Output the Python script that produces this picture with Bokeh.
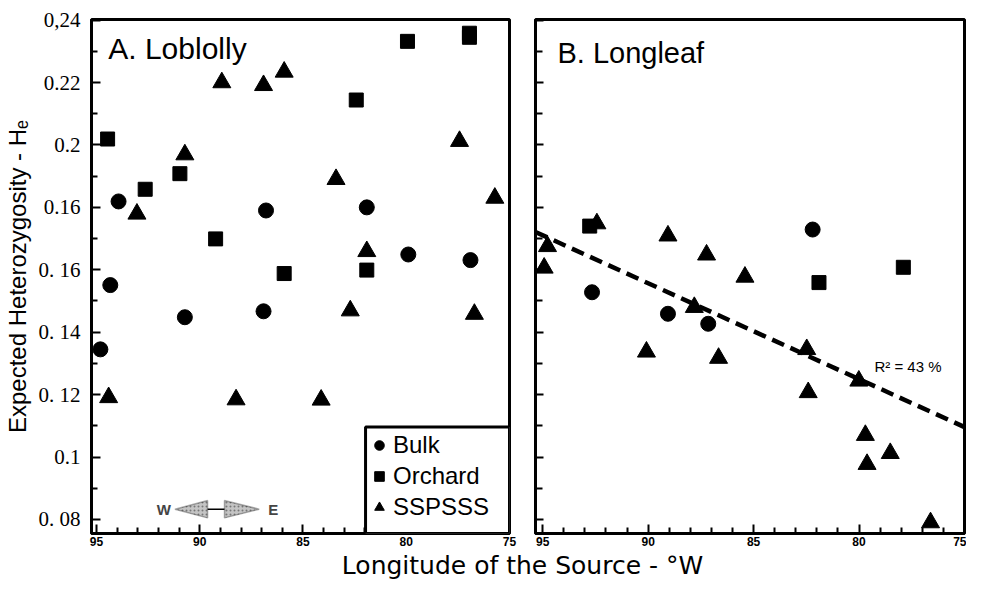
from bokeh.plotting import figure
from bokeh.models import (Range1d, FixedTicker, Legend, LegendItem, BoxAnnotation,
                          Label, PolyAnnotation, Arrow)
from bokeh.layouts import row, column
from bokeh.embed import file_html
from bokeh.resources import INLINE

# ---------------- data ----------------
# A. Loblolly
lob_bulk_lon = [94.33, 93.93, 94.81, 90.72, 86.91, 86.79, 81.91, 79.90, 76.89]
lob_bulk_he = [0.1551, 0.1819, 0.1345, 0.1448, 0.1467, 0.1790, 0.1800, 0.1649, 0.1631]
lob_orch_lon = [94.46, 92.64, 90.96, 89.23, 85.91, 82.42, 81.91, 79.94, 76.94, 76.94]
lob_orch_he = [0.2019, 0.1858, 0.1908, 0.1699, 0.1588, 0.2144, 0.1599, 0.2332, 0.2358, 0.2345]
lob_ssp_lon = [93.04, 90.72, 88.93, 86.91, 85.91, 94.41, 88.24, 83.40, 77.42, 75.71,
               81.91, 82.71, 76.70, 84.12]
lob_ssp_he = [0.1779, 0.1969, 0.2200, 0.2191, 0.2234, 0.1191, 0.1184, 0.1890, 0.2012, 0.1830,
              0.1659, 0.1469, 0.1458, 0.1183]

# B. Longleaf
long_bulk_lon = [92.66, 89.06, 87.15, 82.20]
long_bulk_he = [0.1528, 0.1459, 0.1427, 0.1729]
long_orch_lon = [92.77, 81.90, 77.90]
long_orch_he = [0.1740, 0.1559, 0.1608]
long_ssp_lon = [92.43, 94.77, 94.93, 89.06, 87.23, 85.41, 87.81, 90.08, 86.66, 82.48,
                82.41, 80.01, 79.70, 78.52, 79.62, 76.61]
long_ssp_he = [0.1748, 0.1675, 0.1606, 0.1709, 0.1648, 0.1577, 0.1480, 0.1337, 0.1317, 0.1345,
               0.1207, 0.1244, 0.1070, 0.1012, 0.0977, 0.0790]

# regression line (Longleaf), R^2 = 43 %
trend_lon = [95.34, 75.0]
trend_he = [0.1721, 0.1096]

# axes
x_ticks = [95, 90, 85, 80, 75]
x_minor = [94, 93, 92, 91, 89, 88, 87, 86, 84, 83, 82, 81, 79, 78, 77, 76]
y_ticks = [0.08, 0.10, 0.12, 0.14, 0.16, 0.18, 0.20, 0.22, 0.24]
y_tick_labels = ["0. 08", "0.1", "0. 12", "0. 14", "0. 16", "0.16", "0.2", "0.22", "0,24"]
y_minor = [0.09, 0.11, 0.13, 0.15, 0.17, 0.19, 0.21, 0.23]
x_title = "Longitude of the Source - \u00b0W"

FONT = "Liberation Sans"
H = 550


def make_panel(x_start, width, mb_left, mb_right, mb_top):
    p = figure(width=width, height=H,
               x_range=Range1d(x_start, 75), y_range=Range1d(0.0755, 0.2402),
               toolbar_location=None, output_backend="svg",
               min_border_left=mb_left, min_border_right=mb_right,
               min_border_top=mb_top, min_border_bottom=17)
    p.grid.visible = False
    p.outline_line_color = "black"
    p.outline_line_width = 3
    p.background_fill_color = "white"
    p.border_fill_color = "white"

    xa = p.xaxis[0]
    xa.ticker = FixedTicker(ticks=x_ticks, minor_ticks=x_minor)
    xa.axis_line_width = 3
    xa.major_tick_in = 9
    xa.major_tick_out = 0
    xa.minor_tick_in = 6
    xa.minor_tick_out = 0
    xa.major_tick_line_width = 2
    xa.minor_tick_line_width = 2
    xa.major_label_text_font = FONT
    xa.major_label_text_font_size = "12px"
    xa.major_label_text_font_style = "bold"
    xa.major_label_text_color = "black"
    xa.major_label_standoff = 3

    ya = p.yaxis[0]
    ya.ticker = FixedTicker(ticks=y_ticks, minor_ticks=y_minor)
    ya.axis_line_width = 3
    ya.major_tick_in = 9
    ya.major_tick_out = 0
    ya.minor_tick_in = 6
    ya.minor_tick_out = 0
    ya.major_tick_line_width = 2
    ya.minor_tick_line_width = 2
    return p


# ---------------- panel A ----------------
p1 = make_panel(95.24, 522, 88, 13, 19)
ya1 = p1.yaxis[0]
ya1.major_label_overrides = {t: s for t, s in zip(y_ticks, y_tick_labels)}
ya1.major_label_text_font = "Liberation Serif"
ya1.major_label_text_font_size = "21px"
ya1.major_label_text_color = "black"
ya1.major_label_standoff = 11
ya1.axis_label = "Expected Heterozygosity - H\u2091"
ya1.axis_label_text_font = FONT
ya1.axis_label_text_font_size = "24px"
ya1.axis_label_text_font_style = "normal"
ya1.axis_label_text_color = "black"
ya1.axis_label_standoff = 5

r_bulk = p1.scatter(lob_bulk_lon, lob_bulk_he, marker="circle", size=15,
                    fill_color="black", line_color="black")
r_orch = p1.scatter(lob_orch_lon, lob_orch_he, marker="square", size=14,
                    fill_color="black", line_color="black")
r_ssp = p1.scatter(lob_ssp_lon, lob_ssp_he, marker="triangle", size=18,
                   fill_color="black", line_color="black")

p1.add_layout(Label(x=94.43, y=0.2310, text="A. Loblolly", text_font=FONT,
                    text_font_size="30px", text_baseline="alphabetic", text_color="black"))

# W <-> E direction arrows (decoration)
p1.add_layout(PolyAnnotation(xs=[91.20, 89.62, 89.62], ys=[0.0833, 0.0861, 0.0805],
                             fill_color="#c4c4c4", fill_alpha=1, line_color="black",
                             line_width=1.5, hatch_pattern="dot", hatch_color="#777777",
                             hatch_scale=4))
p1.add_layout(PolyAnnotation(xs=[87.12, 88.80, 88.80], ys=[0.0833, 0.0861, 0.0805],
                             fill_color="#c4c4c4", fill_alpha=1, line_color="black",
                             line_width=1.5, hatch_pattern="dot", hatch_color="#777777",
                             hatch_scale=4))
p1.add_layout(Arrow(end=None, x_start=89.62, y_start=0.0833, x_end=88.80, y_end=0.0833,
                    line_color="black", line_width=1.5))
p1.add_layout(Label(x=91.74, y=0.0833, text="W", text_font=FONT, text_font_size="15px",
                    text_font_style="bold", text_align="center", text_baseline="middle"))
p1.add_layout(Label(x=86.44, y=0.0833, text="E", text_font=FONT, text_font_size="15px",
                    text_font_style="bold", text_align="center", text_baseline="middle"))

# legend box
p1.add_layout(BoxAnnotation(left=81.97, top=0.1096, fill_color="white", fill_alpha=1,
                            line_color="black", line_width=3, line_alpha=1))
legend = Legend(items=[LegendItem(label="Bulk", renderers=[r_bulk]),
                       LegendItem(label="Orchard", renderers=[r_orch]),
                       LegendItem(label="SSPSSS", renderers=[r_ssp])],
                location=(276, 12), padding=0, margin=0, spacing=3,
                glyph_width=24, glyph_height=26, label_height=26, label_standoff=2,
                label_text_font=FONT, label_text_font_size="24px", label_text_color="black",
                border_line_color=None, background_fill_alpha=0)
p1.add_layout(legend)

# ---------------- panel B ----------------
p2 = make_panel(95.34, 444, 13, 2, 15)
ya2 = p2.yaxis[0]
ya2.major_label_overrides = {t: "" for t in y_ticks}
ya2.major_label_standoff = 0
ya2.major_tick_in = 8
ya2.minor_tick_in = 7

p2.line(trend_lon, trend_he, line_color="black", line_width=4.5, line_dash="13 7")
p2.scatter(long_bulk_lon, long_bulk_he, marker="circle", size=15,
           fill_color="black", line_color="black")
p2.scatter(long_orch_lon, long_orch_he, marker="square", size=14,
           fill_color="black", line_color="black")
p2.scatter(long_ssp_lon, long_ssp_he, marker="triangle", size=18,
           fill_color="black", line_color="black")

p2.add_layout(Label(x=94.30, y=0.2295, text="B.  Longleaf", text_font=FONT,
                    text_font_size="29px", text_baseline="alphabetic", text_color="black"))
p2.add_layout(Label(x=79.27, y=0.1289, text="R\u00b2 = 43 %", text_font=FONT,
                    text_font_size="15px", text_baseline="alphabetic", text_color="black"))

# ---------------- shared x title (axis label of a strip figure) ----------------
p3 = figure(width=966, height=32, x_range=Range1d(0, 1), y_range=Range1d(0, 1),
            min_border_left=78, min_border_right=0, min_border_top=0, min_border_bottom=0,
            y_axis_location=None, toolbar_location=None, output_backend="svg")
p3.title.visible = False
p3.grid.visible = False
p3.outline_line_color = None
xa3 = p3.xaxis[0]
xa3.ticker = FixedTicker(ticks=[])
xa3.axis_line_color = None
xa3.major_tick_line_color = None
xa3.minor_tick_line_color = None
xa3.major_tick_in = 0
xa3.major_tick_out = 0
xa3.minor_tick_in = 0
xa3.minor_tick_out = 0
xa3.major_label_standoff = 0
xa3.axis_label = x_title
xa3.axis_label_standoff = 0
xa3.axis_label_text_font = "DejaVu Sans"
xa3.axis_label_text_font_size = "25px"
xa3.axis_label_text_font_style = "normal"
xa3.axis_label_text_color = "black"

layout = column(row(p1, p2), p3)
open("out.html", "w").write(file_html(layout, INLINE))
